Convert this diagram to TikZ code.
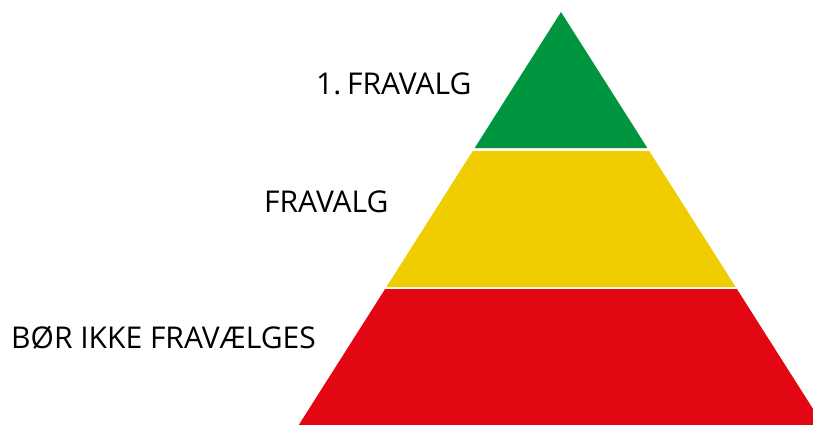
\documentclass[tikz,border=0pt]{standalone}
\usepackage{fontspec}
\setmainfont{Open Sans}
\definecolor{pgreen}{HTML}{009640}
\definecolor{pyellow}{HTML}{EFCD00}
\definecolor{pred}{HTML}{E30613}
\begin{document}
\begin{tikzpicture}[x=1pt,y=-1pt,
  lbl/.style={inner sep=0pt,anchor=base west,font=\fontsize{30}{31}\selectfont,text=black}]
\useasboundingbox (0,0) rectangle (813,425);
\begin{scope}
\clip (0,0) rectangle (813,425);
% bands: apex (561,12), half-width slope 0.635
\fill[pgreen] (561,12) -- ({561+0.635*136},148) -- ({561-0.635*136},148) -- cycle;
\fill[pyellow] ({561-0.635*139},151) -- ({561+0.635*139},151) -- ({561+0.635*275},287) -- ({561-0.635*275},287) -- cycle;
\fill[pred] ({561-0.635*277},289) -- ({561+0.635*277},289) -- ({561+0.635*413},425) -- ({561-0.635*413},425) -- cycle;
\end{scope}
\node[lbl] (t1) at (316,95) {1.\kern-2pt\ FRAVALG};
\node[lbl] (t2) at (264,212) {FRAVALG};
\node[lbl] (t3) at (11,348) {BØR IKKE FRAVÆLGES};
\end{tikzpicture}
\end{document}
